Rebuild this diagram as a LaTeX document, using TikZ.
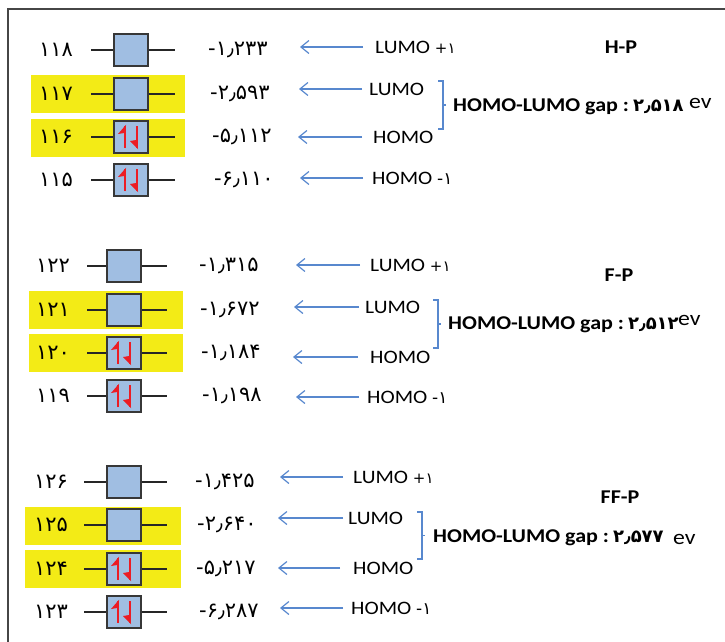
\documentclass[tikz,border=0pt]{standalone}
\usepackage{fontspec}
\setmainfont[FakeStretch=1.13]{Carlito}
\newfontfamily\persianfont{DejaVu Sans}
\usetikzlibrary{arrows.meta}

\definecolor{boxfill}{RGB}{160,190,226}
\definecolor{boxline}{RGB}{55,55,55}
\definecolor{hlyellow}{RGB}{243,235,22}
\definecolor{ptrblue}{RGB}{88,136,206}
\definecolor{spinred}{RGB}{236,28,36}
\definecolor{framegray}{RGB}{70,70,70}

\tikzset{
  lvl/.style={draw=boxline, fill=boxfill, line width=1.6pt,
              minimum width=34pt, minimum height=32pt, inner sep=0pt},
  stub/.style={draw=black!85, line width=1.3pt},
  num/.style={font=\persianfont\fontsize{21}{24}\selectfont, inner sep=0pt},
  orb/.style={font=\fontsize{19}{22}\selectfont, inner sep=0pt, anchor=west},
  ptr/.style={draw=ptrblue, line width=1.2pt,
              -{Straight Barb[length=8pt,width=13pt,line width=1.2pt]}},
  brace/.style={draw=ptrblue, line width=1.2pt},
  spin/.style={draw=spinred, fill=spinred, line width=2.4pt},
  title/.style={font=\bfseries\fontsize{19.5}{22}\selectfont, inner sep=0pt},
  gaptext/.style={font=\bfseries\fontsize{19.5}{22}\selectfont, inner sep=0pt, anchor=west},
  unit/.style={font=\fontsize{21}{24}\selectfont, inner sep=0pt, anchor=west},
}

% yellow band behind a frontier orbital: label part and level part
\newcommand\band[4]{% top y, left x, seam x, right x
  \fill[hlyellow] (#2,#1) rectangle ({#3-0.4},{#1+38});
  \fill[hlyellow] ({#3+0.4},#1) rectangle (#4,{#1+38});
}

% one energy level: box, stubs, orbital number, energy
\newcommand\levelrow[9]{% name, box x, y, stub left, stub right, number, number x, energy, energy x
  \node[lvl] (#1) at (#2,#3) {};
  \coordinate (#1l) at (#4,#3);
  \coordinate (#1r) at (#5,#3);
  \draw[stub] (#1l) -- (#1.west);
  \draw[stub] (#1.east) -- (#1r);
  \node[num] (#1n) at (#7,#3) {#6};
  \node[num, anchor=west] (#1v) at (#9,#3) {#8};
}

% electron pair (up and down) inside a level box
\newcommand\pair[1]{%
  \draw[spin] ([xshift=-6pt,yshift=-11pt]#1.center) -- ([xshift=-6pt,yshift=11pt]#1.center);
  \fill[spinred] ([xshift=-4.8pt,yshift=12.4pt]#1.center) -- ([xshift=-13pt,yshift=3pt]#1.center)
                 -- ([xshift=-7pt,yshift=4pt]#1.center) -- cycle;
  \draw[spin] ([xshift=6pt,yshift=11pt]#1.center) -- ([xshift=6pt,yshift=-11pt]#1.center);
  \fill[spinred] ([xshift=7.2pt,yshift=-12.4pt]#1.center) -- ([xshift=-1pt,yshift=-4pt]#1.center)
                 -- ([xshift=5pt,yshift=-3pt]#1.center) -- cycle;
}

% orbital name with its pointer
\newcommand\pointer[6]{% name, head x, y, text x, text, gap
  \node[orb] (#1t) at (#4,#3) {#5};
  \coordinate (#1h) at (#2,#3);
  \draw[ptr, shorten <=#6pt] (#1t.west) -- (#1h);
}

% bracket joining LUMO and HOMO
\newcommand\bracket[3]{% x, top y, bottom y
  \draw[brace] ({#1-5},#2) -- (#1,#2) -- (#1,#3) -- ({#1-5},#3);
  \draw[brace] (#1,{(#2+#3)/2}) -- ++(3pt,0pt);
}

\newcommand\plusone{{\persianfont\fontsize{15}{16}\selectfont +۱}}
\newcommand\minusone{{\persianfont\fontsize{17}{18}\selectfont -۱}}
\newcommand\gapvalue[1]{{\persianfont\bfseries\fontsize{18}{20}\selectfont #1}}

\begin{document}
\begin{tikzpicture}[x=1pt,y=-1pt]
\useasboundingbox (0,0) rectangle (725,642);
\draw[framegray, line width=1.2pt] (725,9) -- (8,9) -- (8,642);

% ---------------- H-P ----------------
\band{75}{31}{88}{185}
\band{119}{31}{88}{185}
\levelrow{h118}{131}{50}{91}{175}{۱۱۸}{56}{-۱٫۲۳۳}{208}
\levelrow{h117}{131}{94}{91}{175}{۱۱۷}{56}{-۲٫۵۹۳}{210}
\levelrow{h116}{131}{137}{91}{175}{۱۱۶}{56}{-۵٫۱۱۲}{212}
\levelrow{h115}{131}{180}{91}{175}{۱۱۵}{56}{-۶٫۱۱۰}{214}
\pair{h116}
\pair{h115}
\pointer{hp1}{300}{47}{375}{LUMO \plusone}{12}
\pointer{hp2}{299}{89}{369}{LUMO}{7}
\pointer{hp3}{298}{137}{373}{HOMO}{11}
\pointer{hp4}{300}{178}{372}{HOMO \minusone}{9}
\bracket{443}{81}{129}
\node[gaptext] (hgap) at (453,107) {HOMO-LUMO gap :\hspace{4pt}\gapvalue{۲٫۵۱۸}};
\node[unit] (hev) at (689,103) {ev};
\node[title] (hname) at (621,47) {H-P};

% ---------------- F-P ----------------
\band{291}{29}{86}{183}
\band{334}{29}{86}{183}
\levelrow{f122}{124}{266}{87}{167}{۱۲۲}{53}{-۱٫۳۱۵}{199}
\levelrow{f121}{124}{310}{87}{167}{۱۲۱}{53}{-۱٫۶۷۲}{200}
\levelrow{f120}{124}{353}{87}{167}{۱۲۰}{53}{-۱٫۱۸۴}{201}
\levelrow{f119}{124}{396}{87}{167}{۱۱۹}{53}{-۱٫۱۹۸}{202}
\pair{f120}
\pair{f119}
\pointer{fp1}{296}{265}{370}{LUMO \plusone}{10}
\pointer{fp2}{294}{307}{365}{LUMO}{6}
\pointer{fp3}{293}{357}{370}{HOMO}{12}
\pointer{fp4}{296}{397}{367}{HOMO \minusone}{8}
\bracket{438}{300}{348}
\node[gaptext] (fgap) at (448,325) {HOMO-LUMO gap :\hspace{4pt}\gapvalue{۲٫۵۱۲}};
\node[unit] (fev) at (678,320) {ev};
\node[title] (fname) at (619,275) {F-P};

% ---------------- FF-P ----------------
\band{507}{25}{82}{181}
\band{550}{25}{82}{181}
\levelrow{g126}{124}{482}{84}{167}{۱۲۶}{51}{-۱٫۴۲۵}{195}
\levelrow{g125}{124}{525}{84}{167}{۱۲۵}{51}{-۲٫۶۴۰}{197}
\levelrow{g124}{124}{569}{84}{167}{۱۲۴}{51}{-۵٫۲۱۷}{196}
\levelrow{g123}{124}{612}{84}{167}{۱۲۳}{51}{-۶٫۲۸۷}{199}
\pair{g124}
\pair{g123}
\pointer{gp1}{280}{477}{353}{LUMO \plusone}{10}
\pointer{gp2}{278}{518}{348}{LUMO}{5}
\pointer{gp3}{278}{568}{353}{HOMO}{13}
\pointer{gp4}{280}{608}{351}{HOMO \minusone}{8}
\bracket{422}{512}{559}
\node[gaptext] (ggap) at (433,538) {HOMO-LUMO gap :\hspace{4pt}\gapvalue{۲٫۵۷۷}};
\node[unit] (gev) at (673,539) {ev};
\node[title] (gname) at (620,497) {FF-P};
\end{tikzpicture}
\end{document}
